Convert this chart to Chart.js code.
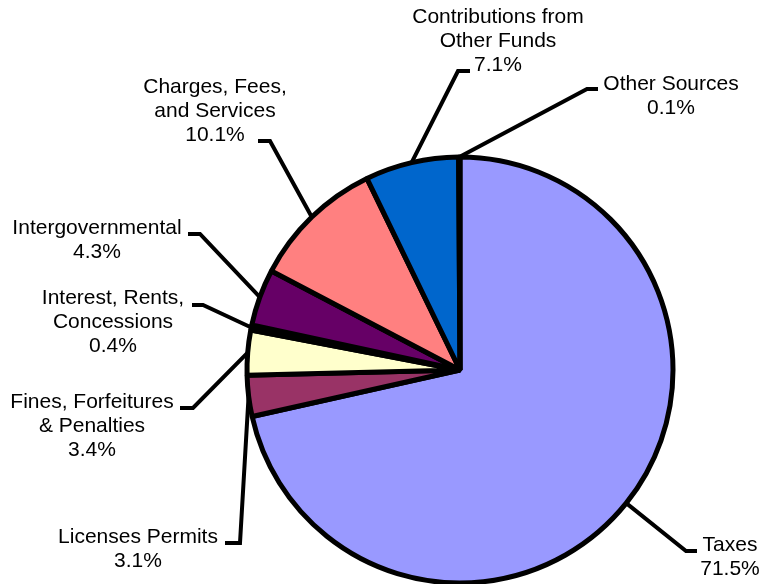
<!DOCTYPE html>
<html>
<head>
<meta charset="utf-8">
<script src="https://cdn.jsdelivr.net/npm/chart.js@4.4.1/dist/chart.umd.min.js"></script>
<style>
  html, body { margin: 0; padding: 0; background: #fff; }
  canvas { display: block; }
</style>
</head>
<body>
<canvas id="graficoReceitas" width="762" height="584"></canvas>
<script>
// Fontes de receita (linhas do rótulo) e participação em %
const categorias = [
    ['Taxes'],
    ['Licenses Permits'],
    ['Fines, Forfeitures', '& Penalties'],
    ['Interest, Rents,', 'Concessions'],
    ['Intergovernmental'],
    ['Charges, Fees,', 'and Services'],
    ['Contributions from', 'Other Funds'],
    ['Other Sources']
];
const percentuais = [71.5, 3.1, 3.4, 0.4, 4.3, 10.1, 7.1, 0.1];
const cores = ['#9999FF', '#993366', '#FFFFCC', '#000000', '#660066', '#FF8080', '#0066CC', '#CCCCFF'];

// Posição dos rótulos: centro do texto, y da primeira linha, cotovelo da linha guia e traço horizontal
const rotulos = [
    { x: 730, y: 545, ex: 686, ey: 551, tick: 11 },
    { x: 138, y: 537, ex: 240, ey: 543, tick: -15 },
    { x: 92,  y: 402, ex: 193, ey: 408, tick: -13 },
    { x: 113, y: 298, ex: 203, ey: 305, tick: -11 },
    { x: 97,  y: 228, ex: 200, ey: 234, tick: -12 },
    { x: 215, y: 87,  ex: 270, ey: 141, tick: -12 },
    { x: 498, y: 17,  ex: 458, ey: 71,  tick: 12 },
    { x: 671, y: 84,  ex: 587, ey: 89,  tick: 11 }
];

const rotulosPizza = {
    id: 'rotulosPizza',
    beforeDatasetsDraw(chart) {
        const ctx = chart.ctx;
        const arcs = chart.getDatasetMeta(0).data;
        ctx.save();
        ctx.strokeStyle = '#000';
        ctx.lineWidth = 4;
        ctx.lineJoin = 'miter';
        arcs.forEach((arc, i) => {
            const r = rotulos[i];
            const meio = (arc.startAngle + arc.endAngle) / 2;
            const px = arc.x + Math.cos(meio) * arc.outerRadius;
            const py = arc.y + Math.sin(meio) * arc.outerRadius;
            ctx.beginPath();
            ctx.moveTo(px, py);
            ctx.lineTo(r.ex, r.ey);
            ctx.lineTo(r.ex + r.tick, r.ey);
            ctx.stroke();
        });
        ctx.restore();
    },
    afterDatasetsDraw(chart) {
        const ctx = chart.ctx;
        ctx.save();
        ctx.fillStyle = '#000';
        ctx.font = '21px "Liberation Sans", Arial, sans-serif';
        ctx.textAlign = 'center';
        ctx.textBaseline = 'middle';
        rotulos.forEach((r, i) => {
            const linhas = categorias[i].concat([percentuais[i].toFixed(1) + '%']);
            linhas.forEach((txt, k) => ctx.fillText(txt, r.x, r.y + k * 24));
        });
        ctx.restore();
    }
};

new Chart(document.getElementById('graficoReceitas'), {
    type: 'pie',
    data: {
        labels: categorias.map(c => c.join(' ')),
        datasets: [{
            data: percentuais,
            backgroundColor: cores,
            borderColor: '#000',
            borderWidth: 5,
            borderAlign: 'center'
        }]
    },
    options: {
        responsive: false,
        animation: false,
        radius: 213,
        layout: {
            padding: { top: 157, bottom: 1, left: 200, right: 42 }
        },
        plugins: {
            legend: { display: false },
            tooltip: { enabled: false }
        }
    },
    plugins: [rotulosPizza]
});
</script>
</body>
</html>
